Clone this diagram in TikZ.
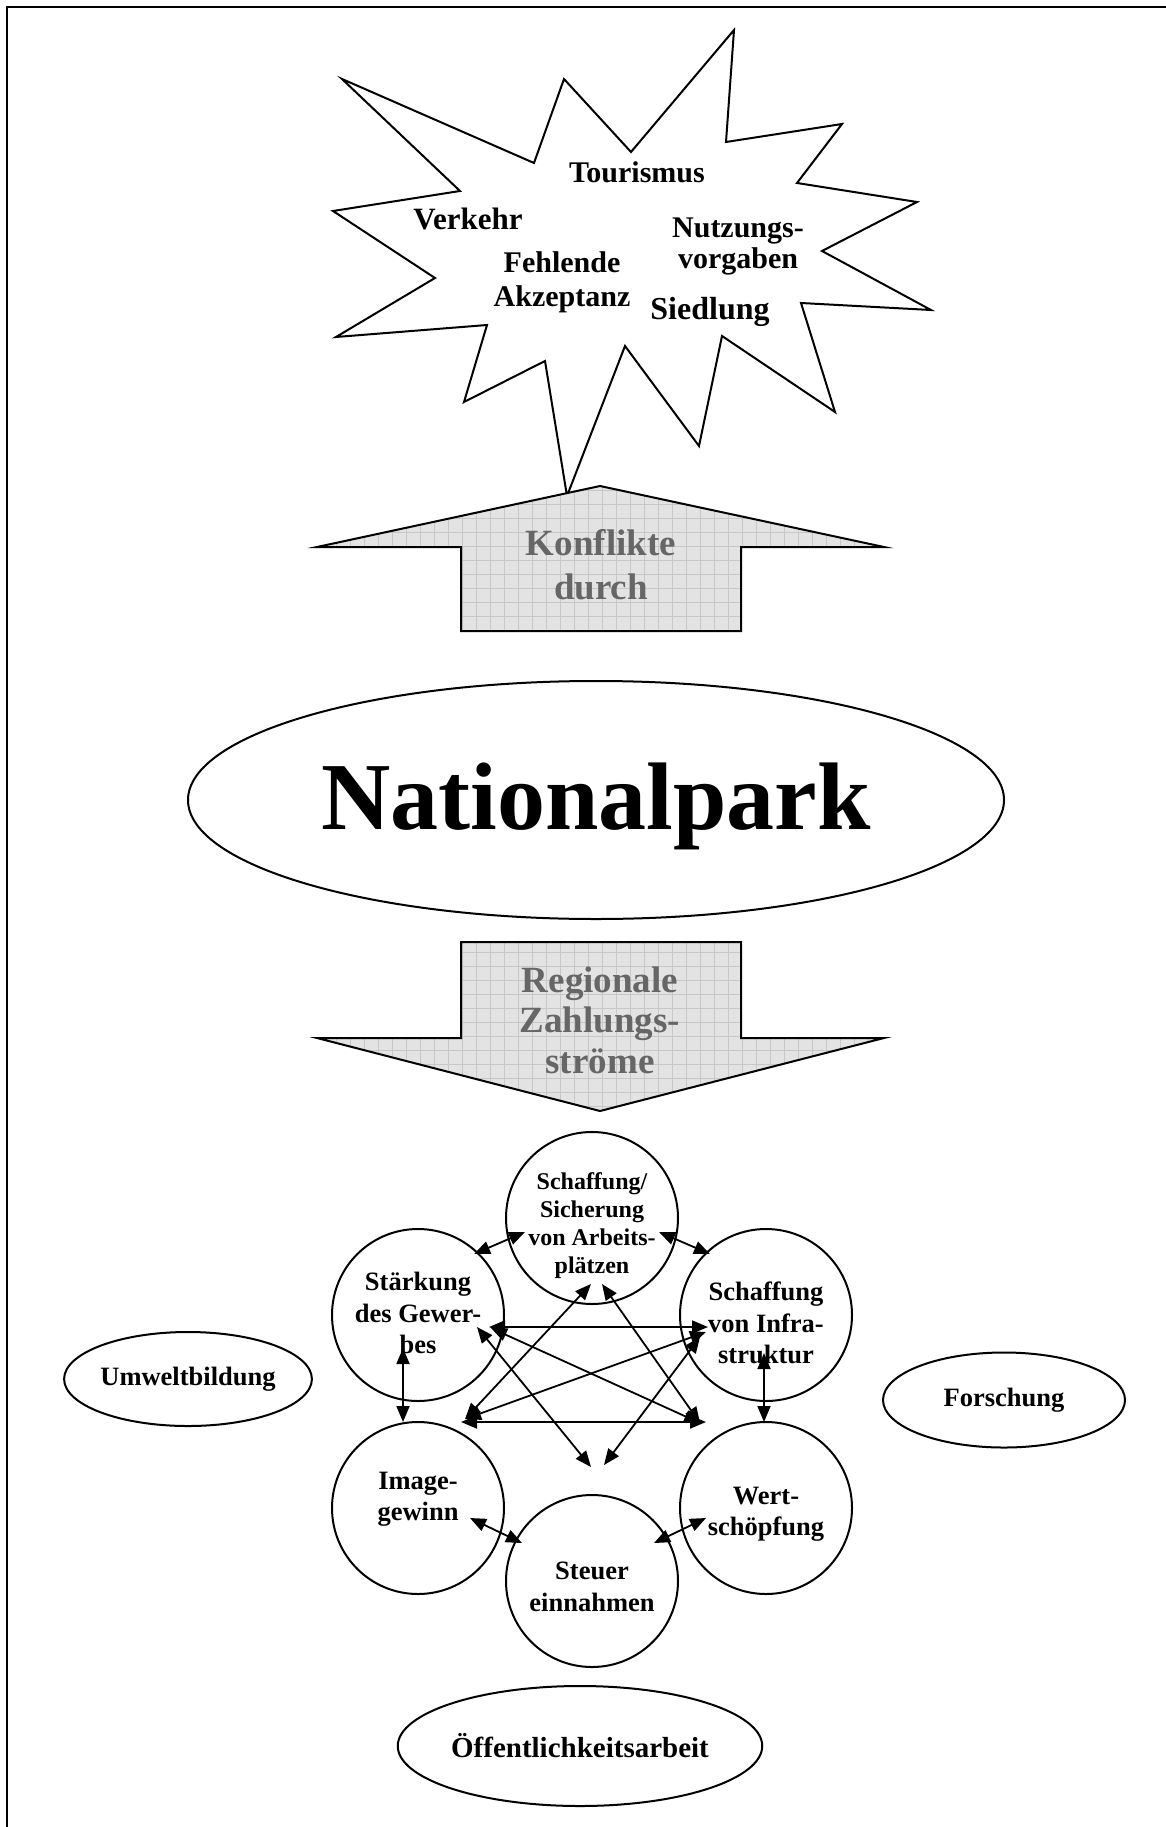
\documentclass[tikz,border=0pt]{standalone}
\usepackage{fontspec}
\setmainfont{Liberation Serif}
\usetikzlibrary{arrows.meta}
\usetikzlibrary{shapes.geometric}
\usetikzlibrary{calc}

\tikzset{
  bubble/.style={circle, draw, line width=2pt, minimum size=172pt, inner sep=0pt},
  bubbletext/.style={align=center, font=\fontsize{26.5}{31.5}\selectfont\bfseries},
  oval/.style={ellipse, draw, line width=2pt, inner sep=0pt, align=center},
  dbl/.style={{Triangle[length=16pt,width=13pt]}-{Triangle[length=16pt,width=13pt]}, line width=1.8pt},
  startext/.style={align=center, font=\fontsize{30}{34}\selectfont\bfseries},
  arrowtext/.style={align=center, text=black!60, font=\fontsize{37}{44}\selectfont\bfseries},
  blockfill/.style={fill=black!11},
  blockgrid/.style={draw=black!22, line width=0.8pt},
}

\begin{document}
\begin{tikzpicture}[x=1pt, y=-1pt]
    \useasboundingbox (0,0) rectangle (1166,1827);

    % Rahmen
    \draw[line width=2pt] (7,1827) -- (7,7) -- (1166,7);

    % Konfliktstern
    \draw[line width=2pt, line join=miter]
        (342,79) -- (534,163) -- (564,79) -- (631,152) -- (734,30) -- (726,142)
        -- (842,124) -- (797,183) -- (917,202) -- (822,251) -- (931,310) -- (801,303)
        -- (835,412) -- (722,336) -- (699,446) -- (625,346) -- (567,496) -- (545,361)
        -- (464,402) -- (487,325) -- (336,337) -- (435,278) -- (333,211) -- (460,191) -- cycle;
    \node[startext] (tour) at (637,172) {Tourismus};
    \node[startext, font=\fontsize{31}{34}\selectfont\bfseries] (verk) at (468,219) {Verkehr};
    \node[startext, font=\fontsize{30}{31}\selectfont\bfseries] (nutz) at (738,246) {Nutzungs-\\vorgaben};
    \node[startext] (akz) at (562,282) {Fehlende\\Akzeptanz};
    \node[startext, font=\fontsize{32}{34}\selectfont\bfseries] (sied) at (710,312) {Siedlung};

    % Pfeil nach oben
    \begin{scope}
        \clip (600,486) -- (884,547) -- (741,547) -- (741,631) -- (461,631) -- (461,547) -- (317,547) -- cycle;
        \fill[blockfill] (300,470) rectangle (900,650);
        \draw[blockgrid, step=14pt] (300,470) grid (900,650);
    \end{scope}
    \draw[line width=2pt, line join=miter]
        (600,486) -- (884,547) -- (741,547) -- (741,631) -- (461,631) -- (461,547) -- (317,547) -- cycle;
    \node[arrowtext] (konf) at (601,565) {Konflikte\\durch};

    % Nationalpark
    \node[oval, minimum width=816pt, minimum height=238pt] (park) at (596,800) {};
    \node[font=\fontsize{96}{100}\selectfont\bfseries] (parktext) at (596,806) {Nationalpark};

    % Pfeil nach unten
    \begin{scope}
        \clip (461,942) -- (741,942) -- (741,1038) -- (884,1038) -- (600,1111) -- (317,1038) -- (461,1038) -- cycle;
        \fill[blockfill] (300,930) rectangle (900,1120);
        \draw[blockgrid, step=14pt] (300,930) grid (900,1120);
    \end{scope}
    \draw[line width=2pt, line join=miter]
        (461,942) -- (741,942) -- (741,1038) -- (884,1038) -- (600,1111) -- (317,1038) -- (461,1038) -- cycle;
    \node[arrowtext, font=\fontsize{37}{40.5}\selectfont\bfseries] (zahl) at (600,1020) {Regionale\\Zahlungs-\\ströme};

    % Wirkungen
    \node[bubble] (T) at (592,1218) {};
    \node[bubble] (L) at (418,1315) {};
    \node[bubble] (R) at (766,1315) {};
    \node[bubble] (I) at (418,1508) {};
    \node[bubble] (W) at (766,1508) {};
    \node[bubble] (S) at (592,1581) {};
    \node[bubbletext, font=\fontsize{24}{28}\selectfont\bfseries] (Tt) at ($(T)+(0,8)$) {Schaffung/\\Sicherung\\von Arbeits-\\plätzen};
    \node[bubbletext] (Lt) at ($(L)+(0,-2)$) {Stärkung\\des Gewer-\\bes};
    \node[bubbletext] (Rt) at ($(R)+(0,8)$) {Schaffung\\von Infra-\\struktur};
    \node[bubbletext] (It) at ($(I)+(0,-9)$) {Image-\\gewinn};
    \node[bubbletext] (Wt) at ($(W)+(0,6)$) {Wert-\\schöpfung};
    \node[bubbletext] (St) at ($(S)+(0,6)$) {Steuer\\einnahmen};

    \draw[dbl] ($(T)+(-67,14)$) -- ($(L)+(56,-61)$);
    \draw[dbl] ($(T)+(67,14)$) -- ($(R)+(-56,-61)$);
    \draw[dbl] ($(L)+(-15,33)$) -- ($(I)+(-15,-86)$);
    \draw[dbl] ($(R)+(-2,38)$) -- ($(W)+(-2,-86)$);
    \draw[dbl] ($(L)+(71,12)$) -- ($(R)+(-58,12)$);
    \draw[dbl] ($(I)+(43,-86)$) -- ($(W)+(-60,-86)$);
    \draw[dbl] ($(T)+(-1,66)$) -- ($(I)+(47,-89)$);
    \draw[dbl] ($(T)+(10,66)$) -- ($(W)+(-66,-85)$);
    \draw[dbl] ($(L)+(73,13)$) -- ($(W)+(-66,-85)$);
    \draw[dbl] ($(L)+(59,12)$) -- ($(S)+(-1,-114)$);
    \draw[dbl] ($(R)+(-60,17)$) -- ($(I)+(47,-89)$);
    \draw[dbl] ($(R)+(-66,22)$) -- ($(S)+(12,-116)$);
    \draw[dbl] ($(I)+(52,10)$) -- ($(S)+(-70,-38)$);
    \draw[dbl] ($(W)+(-60,10)$) -- ($(S)+(62,-38)$);

    % Randthemen
    \node[oval, minimum width=242pt, minimum height=94pt, font=\fontsize{26.5}{30}\selectfont\bfseries] (umw) at (188,1379) {Umweltbildung};
    \node[oval, minimum width=242pt, minimum height=95pt, font=\fontsize{26.5}{30}\selectfont\bfseries] (fors) at (1004,1400) {Forschung};
    \node[oval, minimum width=306pt, minimum height=120pt, font=\fontsize{29}{32}\selectfont\bfseries] (oeff) at (580,1746) {Öffentlichkeitsarbeit};
\end{tikzpicture}
\end{document}
